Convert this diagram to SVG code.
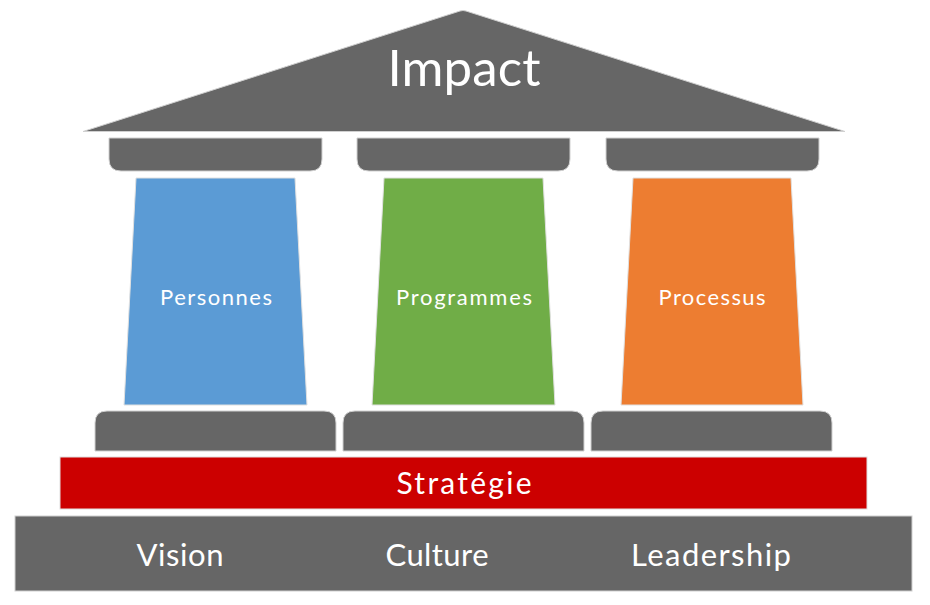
<svg xmlns="http://www.w3.org/2000/svg" width="930" height="605" viewBox="0 0 930 605">
<style>
.g{fill:#666666;stroke:#d0d0d0;stroke-width:1}
.t{font-family:Lato,"Open Sans","Liberation Sans",sans-serif;fill:#ffffff;text-anchor:middle}
</style>
<rect width="930" height="605" fill="#ffffff"/>
<g id="roof">
<path class="g" d="M83,131.5 L460,11 Q463,10 466,11 L845,131.5 Z"/>
<text class="t" x="464" y="86" font-size="51" textLength="153" lengthAdjust="spacing">Impact</text>
</g>
<g id="capitals">
<path class="g" d="M109,138 H322 V159 Q322,171 310,171 H121 Q109,171 109,159 Z"/>
<path class="g" d="M357,138 H570 V159 Q570,171 558,171 H369 Q357,171 357,159 Z"/>
<path class="g" d="M606,138 H819 V159 Q819,171 807,171 H618 Q606,171 606,159 Z"/>
</g>
<g id="pillar-personnes">
<path d="M136,178 H295 L307,405 H124 Z" fill="#5B9BD5" stroke="#e0e0e0" stroke-width="1"/>
<text class="t" x="216" y="305" font-size="22" textLength="112" lengthAdjust="spacing">Personnes</text>
</g>
<g id="pillar-programmes">
<path d="M384,178 H543 L555,405 H372 Z" fill="#70AD47" stroke="#e0e0e0" stroke-width="1"/>
<text class="t" x="464" y="305" font-size="22" textLength="136" lengthAdjust="spacing">Programmes</text>
</g>
<g id="pillar-processus">
<path d="M633,178 H791 L803,405 H621 Z" fill="#ED7D31" stroke="#e0e0e0" stroke-width="1"/>
<text class="t" x="712" y="305" font-size="22" textLength="107" lengthAdjust="spacing">Processus</text>
</g>
<g id="bases">
<path class="g" d="M95,451 V423 Q95,411 107,411 H324 Q336,411 336,423 V451 Z"/>
<path class="g" d="M343,451 V423 Q343,411 355,411 H572 Q584,411 584,423 V451 Z"/>
<path class="g" d="M591,451 V423 Q591,411 603,411 H820 Q832,411 832,423 V451 Z"/>
</g>
<g id="strategie">
<rect x="60" y="457" width="807" height="52" fill="#CC0000" stroke="#e0e0e0" stroke-width="1"/>
<text class="t" x="464" y="494" font-size="30" textLength="135" lengthAdjust="spacing">Stratégie</text>
</g>
<g id="fondation">
<rect class="g" x="15" y="516" width="897" height="75"/>
<text class="t" x="180" y="566" font-size="31" textLength="87" lengthAdjust="spacing">Vision</text>
<text class="t" x="437" y="566" font-size="31" textLength="103" lengthAdjust="spacing">Culture</text>
<text class="t" x="711" y="566" font-size="31" textLength="160" lengthAdjust="spacing">Leadership</text>
</g>
<g id="connectors"></g>
</svg>
